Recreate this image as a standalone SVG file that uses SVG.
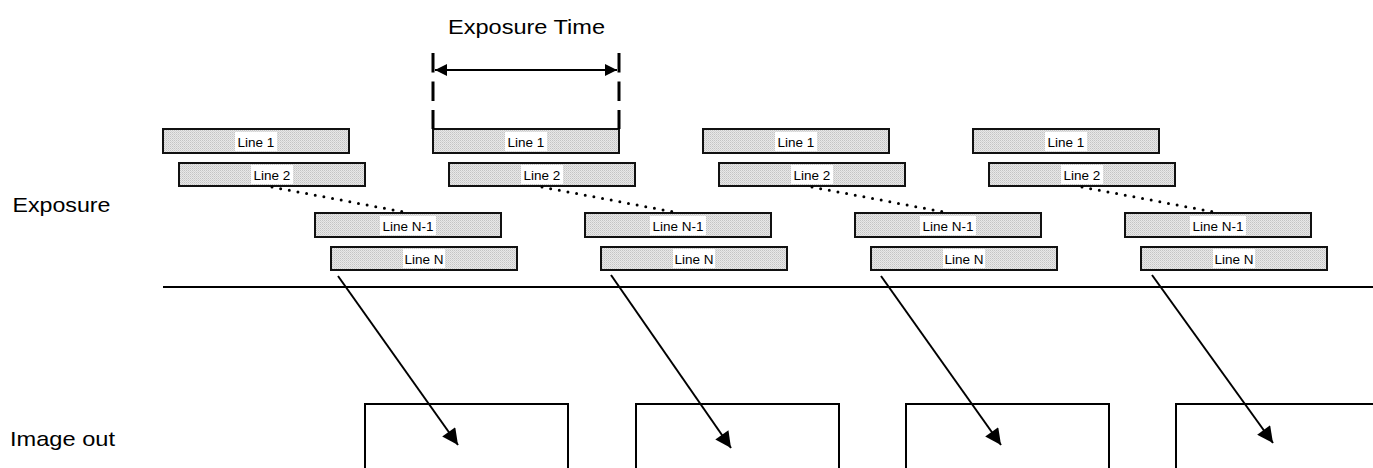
<svg xmlns="http://www.w3.org/2000/svg" width="1373" height="468" viewBox="0 0 1373 468">
<style>
text{font-family:"Liberation Sans",Arial,sans-serif;fill:#000}
.lbl{font-size:21px}
.bar{fill:url(#stip);stroke:#111;stroke-width:2}
.bg{fill:#fff}
.bt{font-size:13.5px;text-anchor:middle}
.out{fill:none;stroke:#000;stroke-width:2}
.conn{stroke:#000;stroke-width:2;fill:none}
.dots{stroke:#000;stroke-width:3;stroke-linecap:round;stroke-dasharray:0 8.8;fill:none}
.dash{stroke:#000;stroke-width:3;stroke-dasharray:19.5 9;fill:none}
</style>
<defs>
<pattern id="stip" width="2" height="2" patternUnits="userSpaceOnUse">
<rect width="2" height="2" fill="#e8e8e8"/>
<rect width="1" height="1" fill="#c4c4c4"/>
<rect x="1" y="1" width="1" height="1" fill="#d4d4d4"/>
</pattern>
<marker id="ah" viewBox="0 0 10 10" refX="10" refY="5" markerWidth="12" markerHeight="8" markerUnits="userSpaceOnUse" orient="auto">
<path d="M0,0 L10,5 L0,10 Z" fill="#000"/>
</marker>
<marker id="ahs" viewBox="0 0 10 10" refX="10" refY="5" markerWidth="13" markerHeight="12" markerUnits="userSpaceOnUse" orient="auto-start-reverse">
<path d="M0,0 L10,5 L0,10 Z" fill="#000"/>
</marker>
<marker id="ahb" viewBox="0 0 10 10" refX="10" refY="5" markerWidth="23" markerHeight="16" markerUnits="userSpaceOnUse" orient="auto">
<path d="M0,0 L10,5 L0,10 Z" fill="#000"/>
</marker>
</defs>
<rect width="1373" height="468" fill="#fff"/>

<g id="labels">
<text class="lbl" x="12.5" y="211.5" textLength="98" lengthAdjust="spacingAndGlyphs">Exposure</text>
<text class="lbl" x="10" y="446" textLength="105" lengthAdjust="spacingAndGlyphs">Image out</text>
<text class="lbl" x="448" y="33.5" textLength="157" lengthAdjust="spacingAndGlyphs">Exposure Time</text>
</g>

<!-- Group 1 -->
<g id="g1-line1"><rect class="bar" x="163" y="129" width="186" height="24"/><rect class="bg" x="235" y="132" width="42" height="19"/><text class="bt" x="256" y="147">Line 1</text></g>
<g id="g1-line2"><rect class="bar" x="179" y="163" width="186" height="23"/><rect class="bg" x="251" y="165" width="42" height="19"/><text class="bt" x="272" y="180">Line 2</text></g>
<g id="g1-lineN1"><rect class="bar" x="315" y="213" width="186" height="24"/><rect class="bg" x="380" y="216" width="56" height="19"/><text class="bt" x="408" y="231">Line N-1</text></g>
<g id="g1-lineN"><rect class="bar" x="331" y="247" width="186" height="23"/><rect class="bg" x="403" y="249" width="42" height="19"/><text class="bt" x="424" y="264">Line N</text></g>

<!-- Group 2 -->
<g id="g2-line1" transform="translate(270,0)"><rect class="bar" x="163" y="129" width="186" height="24"/><rect class="bg" x="235" y="132" width="42" height="19"/><text class="bt" x="256" y="147">Line 1</text></g>
<g id="g2-line2" transform="translate(270,0)"><rect class="bar" x="179" y="163" width="186" height="23"/><rect class="bg" x="251" y="165" width="42" height="19"/><text class="bt" x="272" y="180">Line 2</text></g>
<g id="g2-lineN1" transform="translate(270,0)"><rect class="bar" x="315" y="213" width="186" height="24"/><rect class="bg" x="380" y="216" width="56" height="19"/><text class="bt" x="408" y="231">Line N-1</text></g>
<g id="g2-lineN" transform="translate(270,0)"><rect class="bar" x="331" y="247" width="186" height="23"/><rect class="bg" x="403" y="249" width="42" height="19"/><text class="bt" x="424" y="264">Line N</text></g>

<!-- Group 3 -->
<g id="g3-line1" transform="translate(540,0)"><rect class="bar" x="163" y="129" width="186" height="24"/><rect class="bg" x="235" y="132" width="42" height="19"/><text class="bt" x="256" y="147">Line 1</text></g>
<g id="g3-line2" transform="translate(540,0)"><rect class="bar" x="179" y="163" width="186" height="23"/><rect class="bg" x="251" y="165" width="42" height="19"/><text class="bt" x="272" y="180">Line 2</text></g>
<g id="g3-lineN1" transform="translate(540,0)"><rect class="bar" x="315" y="213" width="186" height="24"/><rect class="bg" x="380" y="216" width="56" height="19"/><text class="bt" x="408" y="231">Line N-1</text></g>
<g id="g3-lineN" transform="translate(540,0)"><rect class="bar" x="331" y="247" width="186" height="23"/><rect class="bg" x="403" y="249" width="42" height="19"/><text class="bt" x="424" y="264">Line N</text></g>

<!-- Group 4 -->
<g id="g4-line1" transform="translate(810,0)"><rect class="bar" x="163" y="129" width="186" height="24"/><rect class="bg" x="235" y="132" width="42" height="19"/><text class="bt" x="256" y="147">Line 1</text></g>
<g id="g4-line2" transform="translate(810,0)"><rect class="bar" x="179" y="163" width="186" height="23"/><rect class="bg" x="251" y="165" width="42" height="19"/><text class="bt" x="272" y="180">Line 2</text></g>
<g id="g4-lineN1" transform="translate(810,0)"><rect class="bar" x="315" y="213" width="186" height="24"/><rect class="bg" x="380" y="216" width="56" height="19"/><text class="bt" x="408" y="231">Line N-1</text></g>
<g id="g4-lineN" transform="translate(810,0)"><rect class="bar" x="331" y="247" width="186" height="23"/><rect class="bg" x="403" y="249" width="42" height="19"/><text class="bt" x="424" y="264">Line N</text></g>

<!-- Image out boxes -->
<g id="out1"><rect class="out" x="365" y="404" width="203" height="80"/></g>
<g id="out2"><rect class="out" x="636" y="404" width="203" height="80"/></g>
<g id="out3"><rect class="out" x="906" y="404" width="203" height="80"/></g>
<g id="out4"><rect class="out" x="1176" y="404" width="203" height="80"/></g>

<g id="connectors">
<line class="conn" x1="163" y1="287" x2="1373" y2="287"/>
<path class="dots" d="M272,187 L404,212"/>
<path class="dots" d="M542,187 L674,212"/>
<path class="dots" d="M812,187 L944,212"/>
<path class="dots" d="M1082,187 L1214,212"/>
<line class="conn" x1="338" y1="276" x2="458" y2="445" marker-end="url(#ahb)"/>
<line class="conn" x1="611" y1="275" x2="731" y2="448" marker-end="url(#ahb)"/>
<line class="conn" x1="881" y1="276" x2="1001" y2="445" marker-end="url(#ahb)"/>
<line class="conn" x1="1152" y1="275" x2="1273" y2="443" marker-end="url(#ahb)"/>
<line class="dash" x1="433" y1="53" x2="433" y2="129"/>
<line class="dash" x1="619" y1="53" x2="619" y2="129"/>
<line class="conn" x1="435" y1="70" x2="617" y2="70" marker-start="url(#ahs)" marker-end="url(#ahs)"/>
</g>
</svg>
